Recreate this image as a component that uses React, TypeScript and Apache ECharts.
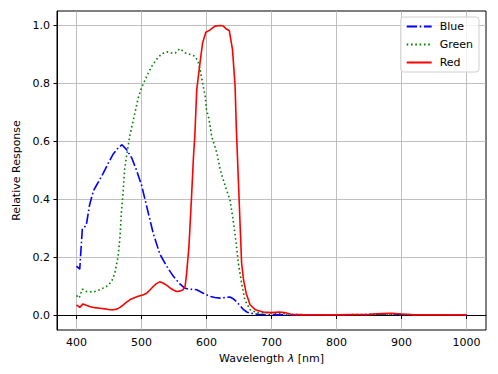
import React, { useEffect, useRef } from "react";
import * as echarts from "echarts";

const blueWl = [400, 405, 409, 415, 420, 426, 431, 436, 441, 449, 456, 464, 470, 477, 485, 492, 500, 508, 518, 528, 539, 549, 559, 566, 572, 585, 595, 605, 613, 621, 630, 636, 641, 646, 652, 657, 662, 667, 680, 700, 720, 750, 800, 850, 880, 900, 950, 1000];
const blueVal = [0.17, 0.16, 0.3, 0.31, 0.38, 0.43, 0.45, 0.47, 0.49, 0.526, 0.555, 0.578, 0.589, 0.572, 0.543, 0.503, 0.45, 0.376, 0.284, 0.213, 0.169, 0.135, 0.109, 0.095, 0.091, 0.089, 0.077, 0.066, 0.062, 0.06, 0.062, 0.064, 0.058, 0.048, 0.033, 0.02, 0.012, 0.008, 0.004, 0.003, 0.002, 0.001, 0.002, 0.003, 0.006, 0.003, 0.002, 0.002];

const greenWl = [400, 404, 409, 415, 420, 426, 436, 446, 454, 459, 464, 467, 469, 472, 474, 477, 482, 486, 490, 495, 500, 508, 516, 523, 531, 539, 546, 552, 559, 567, 575, 582, 587, 590, 595, 598, 600, 604, 608, 616, 621, 629, 636, 641, 645, 649, 654, 659, 667, 677, 690, 700, 720, 740, 800, 880, 900, 1000];
const greenVal = [0.069, 0.06, 0.091, 0.083, 0.082, 0.081, 0.089, 0.1, 0.117, 0.146, 0.204, 0.273, 0.353, 0.434, 0.503, 0.55, 0.62, 0.66, 0.7, 0.75, 0.785, 0.825, 0.86, 0.883, 0.902, 0.909, 0.905, 0.905, 0.92, 0.906, 0.9, 0.894, 0.877, 0.85, 0.79, 0.756, 0.71, 0.676, 0.618, 0.56, 0.503, 0.445, 0.4, 0.33, 0.261, 0.181, 0.112, 0.054, 0.02, 0.01, 0.01, 0.008, 0.006, 0.003, 0.002, 0.005, 0.003, 0.002];

const redWl = [400, 405, 410, 415, 420, 428, 436, 444, 451, 457, 462, 467, 472, 477, 482, 488, 495, 502, 508, 513, 518, 523, 528, 533, 539, 544, 549, 554, 559, 564, 567, 569, 573, 577, 580, 582, 585, 590, 594, 599, 605, 613, 621, 626, 630, 635, 640, 644, 646, 649, 652, 654, 657, 661, 667, 675, 687, 700, 712, 720, 730, 750, 800, 850, 870, 885, 900, 920, 1000];
const redVal = [0.037, 0.028, 0.04, 0.035, 0.031, 0.027, 0.025, 0.023, 0.02, 0.02, 0.022, 0.028, 0.037, 0.046, 0.054, 0.06, 0.066, 0.071, 0.077, 0.088, 0.1, 0.11, 0.116, 0.112, 0.104, 0.095, 0.088, 0.083, 0.084, 0.089, 0.1, 0.135, 0.238, 0.41, 0.549, 0.618, 0.779, 0.871, 0.94, 0.977, 0.984, 0.998, 1.0, 0.998, 0.989, 0.983, 0.917, 0.79, 0.64, 0.468, 0.296, 0.181, 0.123, 0.077, 0.037, 0.02, 0.012, 0.01, 0.012, 0.01, 0.004, 0.002, 0.002, 0.004, 0.007, 0.008, 0.005, 0.002, 0.002];

const seriesNames = ["Blue", "Green", "Red"];
const seriesColors = ["#0000ff", "#008000", "#ff0000"];
const xTicks = [400, 500, 600, 700, 800, 900, 1000];
const yTicks = [0, 0.2, 0.4, 0.6, 0.8, 1.0];

const zip = (a: number[], b: number[]) => a.map((x, i) => [x, b[i]]);

export default function App() {
  const ref = useRef<HTMLDivElement>(null);
  useEffect(() => {
    const chart = echarts.init(ref.current!, null, { renderer: "svg" });
    const font = "DejaVu Sans";
    const fs = 11;
    const dashes: any[] = [[10.4, 2.6, 1.6, 2.6], [1.6, 2.7], "solid"];
    const datas = [zip(blueWl, blueVal), zip(greenWl, greenVal), zip(redWl, redVal)];
    chart.setOption({
      animation: false,
      textStyle: { fontFamily: font },
      grid: { left: 57, right: 12, top: 11, bottom: 44, show: true, borderColor: "#000", borderWidth: 1, backgroundColor: "transparent" },
      legend: {
        data: seriesNames,
        orient: "vertical",
        right: 19,
        top: 17,
        itemWidth: 25,
        itemHeight: 10,
        itemGap: 7,
        backgroundColor: "rgba(255,255,255,0.8)",
        borderColor: "#d0d0d0",
        borderWidth: 1,
        borderRadius: 3,
        padding: [4, 6, 4, 5],
        itemStyle: { color: "transparent", borderColor: "transparent", borderWidth: 0 },
        textStyle: { fontSize: fs, color: "#000", fontFamily: font, padding: [0, 0, 0, 3] },
      },
      xAxis: {
        type: "value",
        min: 370,
        max: 1030,
        name: "{a|Wavelength }{b|λ}{a| [nm]}",
        nameLocation: "middle",
        nameGap: 21,
        nameTextStyle: {
          rich: {
            a: { fontSize: fs, color: "#000", fontFamily: font },
            b: { fontSize: fs, color: "#000", fontFamily: font, fontStyle: "italic" },
          },
        },
        axisLine: { show: true, lineStyle: { color: "#000", width: 1 } },
        axisTick: { show: true, length: 3.5, lineStyle: { color: "#000", width: 1 }, customValues: xTicks },
        axisLabel: { customValues: xTicks, color: "#000", fontSize: fs, margin: 7, fontFamily: font, formatter: (v: number) => String(v) },
        splitLine: { show: true, lineStyle: { color: "#b0b0b0", width: 0.8 } },
      },
      yAxis: {
        type: "value",
        min: -0.05,
        max: 1.05,
        name: "Relative Response",
        nameLocation: "middle",
        nameGap: 31,
        nameTextStyle: { fontSize: fs, color: "#000", fontFamily: font },
        axisLine: { show: true, lineStyle: { color: "#000", width: 1 } },
        axisTick: { show: true, length: 3.5, lineStyle: { color: "#000", width: 1 }, customValues: yTicks },
        axisLabel: { customValues: yTicks, color: "#000", fontSize: fs, margin: 7, fontFamily: font, formatter: (v: number) => v.toFixed(1) },
        splitLine: { show: true, lineStyle: { color: "#b0b0b0", width: 0.8 } },
      },
      series: seriesNames.map((n, i) => ({
        name: n,
        type: "line",
        data: datas[i],
        showSymbol: false,
        symbol: "none",
        color: seriesColors[i],
        lineStyle: { color: seriesColors[i], width: 1.6, type: dashes[i], cap: "butt" },
      })),
    });
    return () => chart.dispose();
  }, []);
  return <div ref={ref} style={{ position: "absolute", left: 0, top: 0, width: 498, height: 374 }} />;
}
